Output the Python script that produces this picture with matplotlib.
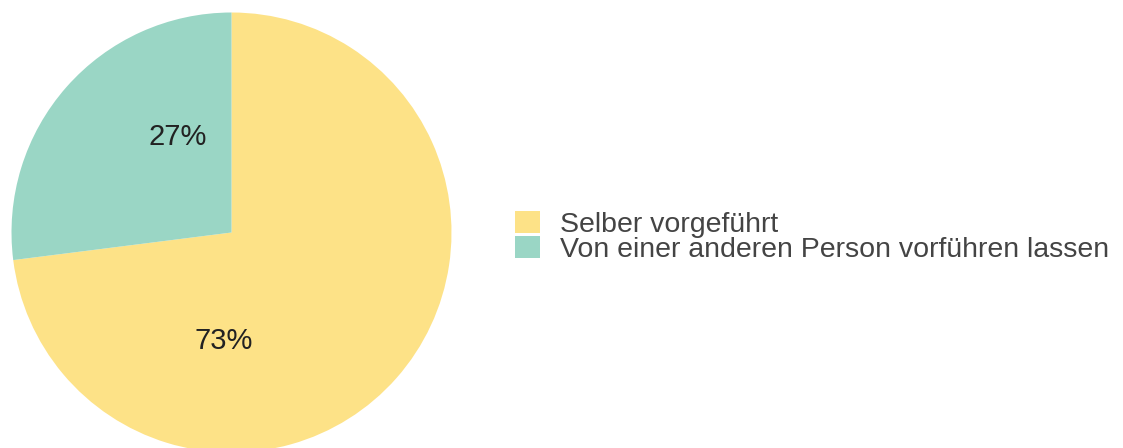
import matplotlib
matplotlib.use("Agg")
import matplotlib.pyplot as plt
from matplotlib.patches import Patch

plt.rcParams['font.family'] = ['Liberation Sans', 'DejaVu Sans']

categories = ["Selber vorgeführt", "Von einer anderen Person vorführen lassen"]
shares = [73, 27]
colors = ["#FDE287", "#9AD6C5"]
# where each percentage label sits inside its wedge (pie data units)
label_pos = [(-0.035, -0.495), (-0.245, 0.434)]

W, H = 1123, 448
fig = plt.figure(figsize=(W / 100, H / 100), dpi=100)
fig.patch.set_facecolor("white")

# pie centred at about (231, 232) px with a radius of 220 px
cx, cy, r = 231.5, 232.5, 220.0
ax = fig.add_axes([(cx - r) / W, (H - cy - r) / H, 2 * r / W, 2 * r / H])
wedges, texts, autotexts = ax.pie(
    shares, colors=colors, startangle=90, counterclock=False,
    autopct=lambda p: f"{p:.0f}%", radius=1.0,
    wedgeprops=dict(linewidth=0),
    textprops=dict(fontsize=21, color="#222222"),
)
for t, pos in zip(autotexts, label_pos):
    t.set_position(pos)
ax.set_xlim(-1, 1)
ax.set_ylim(-1, 1)
ax.set_aspect("equal")
ax.axis("off")

handles = [Patch(facecolor=c, edgecolor="none") for c in colors]
fig.legend(
    handles, categories, loc="upper left",
    bbox_to_anchor=(515 / W, 1 - 211 / H),
    frameon=False, fontsize=20.5, labelcolor="#444444",
    handlelength=0.88, handleheight=0.82, handletextpad=0.7,
    labelspacing=-0.06, borderaxespad=0, borderpad=0,
)

fig.savefig("out.png", dpi=100, facecolor="white")
